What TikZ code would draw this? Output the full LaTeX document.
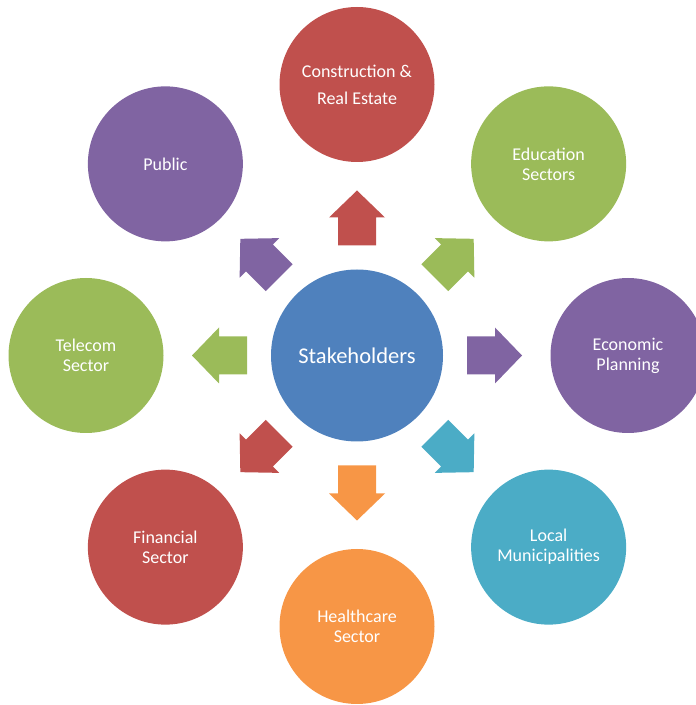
\documentclass[tikz,border=0pt]{standalone}
\usepackage{fontspec}
\setmainfont{Carlito}
\usetikzlibrary{calc}
\definecolor{cred}{HTML}{C0504D}
\definecolor{cgreen}{HTML}{9BBB59}
\definecolor{cpurple}{HTML}{8064A2}
\definecolor{cblue}{HTML}{4F81BD}
\definecolor{caqua}{HTML}{4BACC6}
\definecolor{corange}{HTML}{F79646}
\tikzset{
  hub/.style={circle, fill=cblue, minimum size=172pt, inner sep=0pt, text=white,
    font=\fontsize{22.5}{25}\selectfont, align=center},
  sat/.style={circle, minimum size=155pt, inner sep=0pt, text=white,
    font=\fontsize{18}{20}\selectfont, align=center},
  blockarrow/.pic={\fill[pic actions] (110,-19) -- (138,-19) -- (138,-28) -- (165,0)
    -- (138,28) -- (138,19) -- (110,19) -- cycle;}
}
\begin{document}
\begin{tikzpicture}[x=1pt,y=1pt]
\useasboundingbox (0,0) rectangle (696,705);
\clip (0,0) rectangle (696,705);
\node[hub] (hub) at (357,349.5) {Stakeholders};
\node[sat, fill=cred, font=\fontsize{18}{27}\selectfont] (constr) at ($(hub)+(90:271)$) {Construction \&\\Real Estate};
\node[sat, fill=cgreen] (edu) at ($(hub)+(45:271)$) {Education\\Sectors};
\node[sat, fill=cpurple] (econ) at ($(hub)+(0:271)$) {Economic\\Planning};
\node[sat, fill=caqua] (local) at ($(hub)+(-45:271)$) {Local\\Municipalities};
\node[sat, fill=corange] (health) at ($(hub)+(-90:271)$) {Healthcare\\Sector};
\node[sat, fill=cred] (fin) at ($(hub)+(-135:271)$) {Financial\\Sector};
\node[sat, fill=cgreen] (tele) at ($(hub)+(180:271)$) {Telecom\\Sector};
\node[sat, fill=cpurple] (public) at ($(hub)+(135:271)$) {Public};
\path (hub.center) pic[rotate=90, fill=cred] {blockarrow};
\path (hub.center) pic[rotate=45, fill=cgreen] {blockarrow};
\path (hub.center) pic[rotate=0, fill=cpurple] {blockarrow};
\path (hub.center) pic[rotate=-45, fill=caqua] {blockarrow};
\path (hub.center) pic[rotate=-90, fill=corange] {blockarrow};
\path (hub.center) pic[rotate=-135, fill=cred] {blockarrow};
\path (hub.center) pic[rotate=180, fill=cgreen] {blockarrow};
\path (hub.center) pic[rotate=135, fill=cpurple] {blockarrow};
\end{tikzpicture}
\end{document}
